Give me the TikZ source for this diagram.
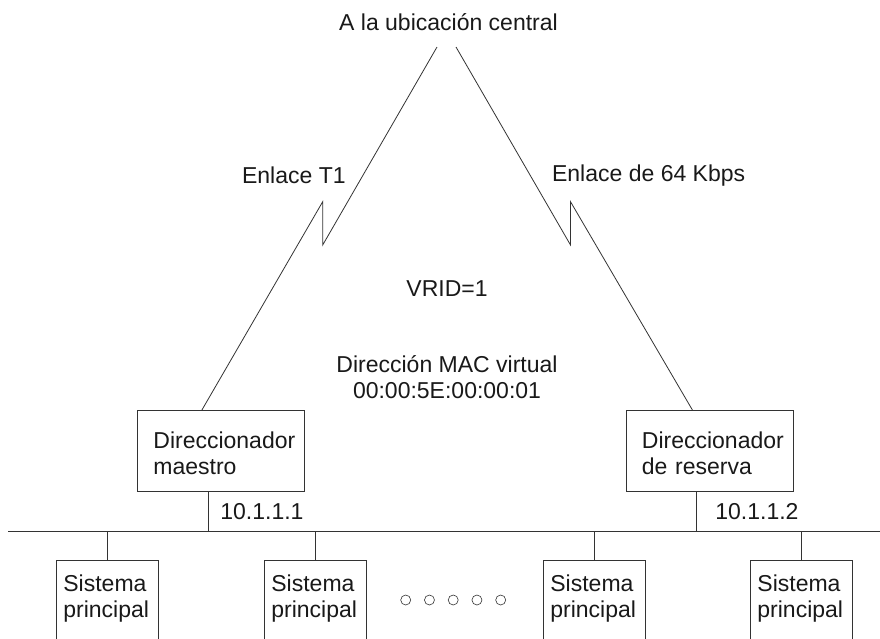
\documentclass[tikz,border=0pt]{standalone}
\usepackage{fontspec}
\setmainfont{Liberation Sans}
\begin{document}
\begin{tikzpicture}[x=1pt, y=-1pt, font=\fontsize{23}{26}\selectfont, line width=0.8pt,
          wire/.style={draw=black!80},
          lbl/.style={inner sep=0pt, text=black!90},
          box/.style={draw=black!80, align=left, inner ysep=0pt, text=black!90},
          router/.style={box, anchor=north west, text width=135pt, inner xsep=16pt, text height=37.7pt, text depth=43pt},
          host/.style={box, anchor=north west, text width=88pt, inner xsep=7pt, text height=30.7pt, text depth=100pt},
          dot/.style={circle, draw=black!80, inner sep=0pt, minimum size=10pt, line width=0.6pt}]
        \useasboundingbox (0,0) rectangle (880,638);
        \clip (0,0) rectangle (880,638);
        \node[lbl, anchor=base] (top) at (448.5,30) {A la ubicación central};
        \node[lbl, anchor=base west] (t1) at (241.7,183.3) {Enlace T1};
        \node[lbl, anchor=base west] (k64) at (551.7,181.7) {Enlace de 64 Kbps};
        \node[lbl, anchor=base] (vrid) at (447,296.7) {VRID=1};
        \node[lbl, anchor=base, align=center] (mac) at (447,398.3) {Dirección MAC virtual\\00:00:5E:00:00:01};
        \node[router] (rm) at (137,410) {Direccionador\\maestro};
        \node[router] (rr) at (625.5,410) {Direccionador\\de reserva};
        \node[lbl, anchor=base west] (ip1) at (220,519.3) {10.1.1.1};
        \node[lbl, anchor=base west] (ip2) at (715,519.3) {10.1.1.2};
        \node[host] (s1) at (56,560) {Sistema\\principal};
        \node[host] (s2) at (264,560) {Sistema\\principal};
        \node[host] (s3) at (543,560) {Sistema\\principal};
        \node[host] (s4) at (750,560) {Sistema\\principal};
        \foreach \i in {0,...,4}
          \node[dot] (d\i) at (405.7+23.75*\i,600) {};
        \coordinate (ctl) at (437,47);
        \coordinate (ctr) at (456,47);
        \coordinate (lanw) at (8,531.7);
        \coordinate (lane) at (880,531.7);
        % serial links with the zigzag
        \draw[wire] (ctl) -- (322.7,245) -- (322.7,201.7) -- ([xshift=-19pt]rm.north);
        \draw[wire] (ctr) -- (570.5,245) -- (570.5,201.7) -- ([xshift=-17pt]rr.north);
        % LAN
        \draw[wire] (lanw) -- (lane);
        \draw[wire] ([xshift=-13pt]rm.south) -- ([xshift=-13pt]rm.south |- lanw);
        \draw[wire] ([xshift=-13pt]rr.south) -- ([xshift=-13pt]rr.south |- lanw);
        \foreach \s in {s1,s2,s3,s4}
          \draw[wire] (\s.north) -- (\s.north |- lanw);
      \end{tikzpicture}
\end{document}
